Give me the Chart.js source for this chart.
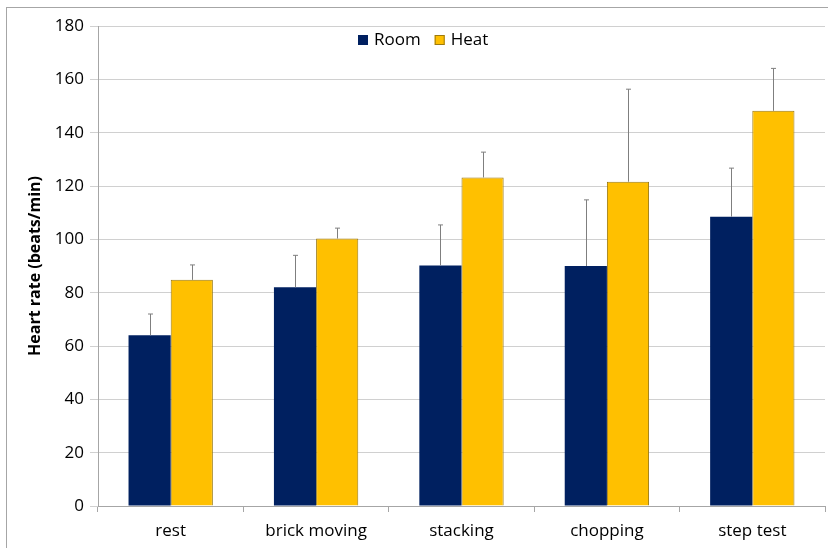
<!DOCTYPE html>
<html>
<head>
<meta charset="utf-8">
<script src="https://cdn.jsdelivr.net/npm/chart.js@4"></script>
<style>
  body { margin: 0; background: #fff; }
  #wrap { position: relative; width: 828px; height: 548px; }
  #frame { position: absolute; left: 6px; top: 7px; right: -2px; bottom: -2px; border-left: 1px solid #a6a6a6; border-top: 1px solid #a6a6a6; pointer-events: none; }
</style>
</head>
<body>
<div id="wrap">
  <canvas id="BarChart" width="828" height="548"></canvas>
  <div id="frame"></div>
</div>
<script>
  const categories = ["rest", "brick moving", "stacking", "chopping", "step test"];
  const roomValues = [64, 82, 90.2, 90, 108.5];
  const heatValues = [84.8, 100.3, 123.2, 121.6, 148.2];
  // upper end of the error bars
  const roomErrTop = [72, 94, 105.4, 114.8, 126.7];
  const heatErrTop = [90.4, 104.2, 132.7, 156.3, 164.1];
  const yTicks = [0, 20, 40, 60, 80, 100, 120, 140, 160, 180];

  const fontFamily = "'Open Sans', sans-serif";

  // draws the upper error whiskers
  const errorBars = {
    id: 'errorBars',
    afterDatasetsDraw(chart) {
      const ctx = chart.ctx;
      const y = chart.scales.y;
      ctx.save();
      ctx.strokeStyle = '#7f7f7f';
      ctx.lineWidth = 1;
      chart.data.datasets.forEach((ds, i) => {
        const meta = chart.getDatasetMeta(i);
        meta.data.forEach((bar, j) => {
          const x = Math.round(bar.x) + 0.5;
          const top = y.getPixelForValue(ds.errTop[j]);
          ctx.beginPath();
          ctx.moveTo(x, bar.y);
          ctx.lineTo(x, top);
          ctx.moveTo(x - 2.5, top);
          ctx.lineTo(x + 2.5, top);
          ctx.stroke();
        });
      });
      ctx.restore();
    }
  };

  // legend drawn inside the plot area
  const innerLegend = {
    id: 'innerLegend',
    afterDraw(chart) {
      const ctx = chart.ctx;
      ctx.save();
      ctx.font = '17px ' + fontFamily;
      ctx.textBaseline = 'middle';
      let x = 358;
      const yc = 40;
      chart.data.datasets.forEach(ds => {
        ctx.fillStyle = ds.backgroundColor;
        ctx.fillRect(x, yc - 5, 10, 10);
        ctx.strokeStyle = ds.borderColor;
        ctx.lineWidth = 1;
        ctx.strokeRect(x + 0.5, yc - 4.5, 9, 9);
        ctx.fillStyle = '#000';
        ctx.fillText(ds.label, x + 16, yc);
        x += 16 + ctx.measureText(ds.label).width + 14;
      });
      ctx.restore();
    }
  };

  const ctx = document.getElementById('BarChart').getContext('2d');
  let chart = new Chart(ctx, {
    type: 'bar',
    data: {
      labels: categories,
      datasets: [{
        label: "Room",
        backgroundColor: '#002060',
        borderColor: '#002060',
        borderWidth: 0,
        data: roomValues,
        errTop: roomErrTop
      }, {
        label: "Heat",
        backgroundColor: '#ffc000',
        borderColor: '#9c7a10',
        borderWidth: 1,
        borderSkipped: 'bottom',
        data: heatValues,
        errTop: heatErrTop
      }]
    },
    options: {
      responsive: false,
      animation: false,
      events: [],
      layout: { padding: { top: 26, right: 3, left: 26, bottom: 0 } },
      categoryPercentage: 0.58,
      barPercentage: 1.0,
      plugins: {
        legend: { display: false },
        tooltip: { enabled: false }
      },
      scales: {
        x: {
          afterFit: axis => { axis.height = 42; },
          grid: { display: true, drawOnChartArea: false, color: '#a6a6a6', tickLength: 6, offset: true },
          border: { color: '#a6a6a6' },
          ticks: { color: '#000', font: { family: fontFamily, size: 17 }, padding: 9 }
        },
        y: {
          min: 0,
          max: 180,
          afterBuildTicks: axis => { axis.ticks = yTicks.map(v => ({ value: v })); },
          afterFit: axis => { axis.width = 72; },
          grid: { color: '#d0d0d0', tickLength: 8 },
          border: { color: '#a6a6a6' },
          ticks: { color: '#000', font: { family: fontFamily, size: 17 }, padding: 6 },
          title: {
            display: true,
            text: 'Heart rate (beats/min)',
            color: '#000',
            font: { family: fontFamily, size: 16, weight: 'bold' },
            padding: 0
          }
        }
      }
    },
    plugins: [errorBars, innerLegend]
  });
</script>
</body>
</html>
